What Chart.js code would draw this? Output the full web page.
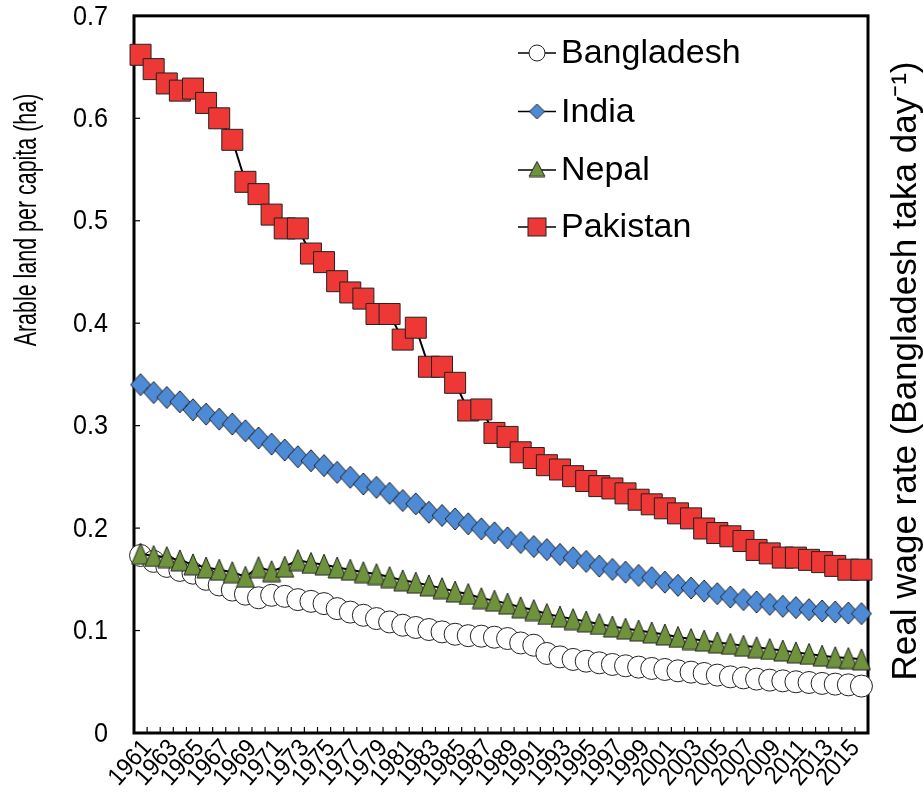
<!DOCTYPE html>
<html><head><meta charset="utf-8">
<script src="https://cdn.jsdelivr.net/npm/chart.js@4.4.0/dist/chart.umd.min.js"></script>
<style>html,body{margin:0;padding:0;background:#fff;}canvas{display:block;}</style>
</head><body>
<canvas id="c" width="923" height="798"></canvas>
<script>
const years = ['1961','1962','1963','1964','1965','1966','1967','1968','1969','1970',
'1971','1972','1973','1974','1975','1976','1977','1978','1979','1980',
'1981','1982','1983','1984','1985','1986','1987','1988','1989','1990',
'1991','1992','1993','1994','1995','1996','1997','1998','1999','2000',
'2001','2002','2003','2004','2005','2006','2007','2008','2009','2010',
'2011','2012','2013','2014','2015','2016'];
const xTickLabels = ['1961','1963','1965','1967','1969','1971','1973','1975','1977','1979','1981','1983','1985','1987','1989','1991','1993','1995','1997','1999','2001','2003','2005','2007','2009','2011','2013','2015'];
const yTickLabels = ['0','0.1','0.2','0.3','0.4','0.5','0.6','0.7'];
const seriesNames = ['Bangladesh','India','Nepal','Pakistan'];

const bangladesh = [0.1733,0.1675,0.1626,0.1587,0.1560,0.1500,0.1445,0.1395,0.1355,0.1320,
0.1344,0.1334,0.1302,0.1285,0.1263,0.1214,0.1180,0.1149,0.1117,0.1084,
0.1052,0.1030,0.1010,0.0987,0.0964,0.0950,0.0945,0.0935,0.0922,0.0879,
0.0857,0.0776,0.0743,0.0718,0.0701,0.0685,0.0669,0.0656,0.0643,0.0630,
0.0620,0.0607,0.0594,0.0581,0.0565,0.0548,0.0538,0.0526,0.0516,0.0509,
0.0500,0.0493,0.0484,0.0477,0.0470,0.0458];
const india = [0.3400,0.3323,0.3275,0.3233,0.3155,0.3113,0.3064,0.3016,0.2950,0.2880,
0.2820,0.2762,0.2697,0.2658,0.2610,0.2544,0.2496,0.2431,0.2398,0.2340,
0.2269,0.2237,0.2155,0.2123,0.2090,0.2042,0.1993,0.1954,0.1905,0.1860,
0.1820,0.1790,0.1743,0.1710,0.1675,0.1629,0.1597,0.1570,0.1538,0.1516,
0.1473,0.1441,0.1415,0.1386,0.1360,0.1327,0.1302,0.1279,0.1256,0.1237,
0.1224,0.1204,0.1191,0.1181,0.1171,0.1165];
const nepal = [0.1750,0.1728,0.1717,0.1685,0.1646,0.1616,0.1594,0.1570,0.1525,0.1619,
0.1580,0.1623,0.1688,0.1660,0.1644,0.1616,0.1594,0.1570,0.1551,0.1522,
0.1490,0.1468,0.1441,0.1414,0.1381,0.1357,0.1316,0.1292,0.1263,0.1227,
0.1200,0.1162,0.1136,0.1112,0.1089,0.1064,0.1039,0.1019,0.1000,0.0982,
0.0962,0.0938,0.0917,0.0902,0.0884,0.0870,0.0852,0.0837,0.0820,0.0805,
0.0787,0.0772,0.0755,0.0740,0.0732,0.0719];
const pakistan = [0.662,0.648,0.634,0.627,0.629,0.615,0.600,0.579,0.538,0.526,
0.506,0.4925,0.4925,0.468,0.4596,0.441,0.430,0.424,0.409,0.409,
0.384,0.3956,0.3575,0.3575,0.3418,0.3148,0.3158,0.2929,0.2890,0.2740,
0.2684,0.2614,0.2572,0.2507,0.2460,0.2410,0.2387,0.2339,0.2277,0.2232,
0.2193,0.2144,0.2095,0.1996,0.1952,0.1920,0.1874,0.1787,0.1753,0.1712,
0.1712,0.1690,0.1668,0.1631,0.1594,0.1594];

const FONT = "'Liberation Sans', Arial, Helvetica, sans-serif";
const C_RED = '#EE3835', C_BLUE = '#4E8BD6', C_GREEN = '#6F933C', C_EDGE = '#222';

function markCanvas(kind, w, h, fill) {
  const c = document.createElement('canvas');
  c.width = w + 2; c.height = h + 2;
  const g = c.getContext('2d');
  g.beginPath();
  if (kind === 'tri') {
    g.moveTo(c.width / 2, 1); g.lineTo(w + 1, h + 1); g.lineTo(1, h + 1);
  } else {
    g.moveTo(c.width / 2, 1); g.lineTo(w + 1, c.height / 2); g.lineTo(c.width / 2, h + 1); g.lineTo(1, c.height / 2);
  }
  g.closePath();
  g.fillStyle = fill; g.fill();
  g.lineWidth = 1; g.strokeStyle = C_EDGE; g.stroke();
  return c;
}
const triMark = markCanvas('tri', 18, 21, C_GREEN);
const diaMark = markCanvas('dia', 20, 22, C_BLUE);
const triLeg = markCanvas('tri', 16, 15, C_GREEN);
const diaLeg = markCanvas('dia', 15, 15, C_BLUE);

function txt(ctx, s, x, y, rot, size, sx, align, base) {
  ctx.save();
  ctx.translate(x, y);
  if (rot) ctx.rotate(rot);
  ctx.scale(sx, 1);
  ctx.font = size + 'px ' + FONT;
  ctx.textAlign = align;
  ctx.textBaseline = base;
  ctx.fillStyle = '#000';
  ctx.fillText(s, 0, 0);
  ctx.restore();
}

const decor = {
  id: 'decor',
  beforeDatasetsDraw(chart) {
    const { ctx, chartArea: a, scales: { x, y } } = chart;
    ctx.save();
    ctx.strokeStyle = '#000';
    ctx.lineWidth = 1.2;
    yTickLabels.forEach((l) => {
      const py = y.getPixelForValue(parseFloat(l));
      ctx.beginPath(); ctx.moveTo(a.left, py); ctx.lineTo(a.left + 6, py); ctx.stroke();
    });
    for (let i = 0; i <= years.length; i++) {
      const px = x.getPixelForValue(i - 0.5);
      ctx.beginPath(); ctx.moveTo(px, a.bottom); ctx.lineTo(px, a.bottom - 6); ctx.stroke();
    }
    ctx.lineWidth = 3;
    ctx.strokeRect(a.left, a.top, a.right - a.left, a.bottom - a.top);
    ctx.restore();
  },
  afterDraw(chart) {
    const { ctx, chartArea: a, scales: { x, y } } = chart;
    yTickLabels.forEach((l) => {
      txt(ctx, l, 108, y.getPixelForValue(parseFloat(l)) + 1, 0, 28, 0.9, 'right', 'middle');
    });
    xTickLabels.forEach((l) => {
      const px = x.getPixelForValue(years.indexOf(l));
      txt(ctx, l, px + 7, a.bottom + 11, -48 * Math.PI / 180, 25, 0.92, 'right', 'middle');
    });
    txt(ctx, 'Arable land per capita (ha)', 27, 220, -Math.PI / 2, 32, 0.67, 'center', 'middle');
    txt(ctx, 'Real wage rate (Bangladesh taka day\u207B\u00B9)', 906, 371, -Math.PI / 2, 35, 1, 'center', 'middle');
    ctx.save();
    const rows = [53, 111.5, 170, 227];
    rows.forEach((ry, i) => {
      ctx.strokeStyle = '#000'; ctx.lineWidth = 1.5;
      ctx.beginPath(); ctx.moveTo(518, ry); ctx.lineTo(556, ry); ctx.stroke();
      const mx = 537;
      if (i === 0) {
        ctx.beginPath(); ctx.arc(mx, ry, 8, 0, Math.PI * 2);
        ctx.fillStyle = '#fff'; ctx.fill(); ctx.lineWidth = 1; ctx.strokeStyle = C_EDGE; ctx.stroke();
      } else if (i === 1) {
        ctx.drawImage(diaLeg, mx - diaLeg.width / 2, ry - diaLeg.height / 2);
      } else if (i === 2) {
        ctx.drawImage(triLeg, mx - triLeg.width / 2, ry - triLeg.height / 2 - 1);
      } else {
        ctx.fillStyle = C_RED; ctx.fillRect(mx - 9, ry - 9, 18, 18);
        ctx.lineWidth = 1; ctx.strokeStyle = C_EDGE; ctx.strokeRect(mx - 9, ry - 9, 18, 18);
      }
      txt(ctx, seriesNames[i], 561, ry + 1, 0, 34, 1, 'left', 'middle');
    });
    ctx.restore();
  }
};

const common = { borderColor: '#000', borderWidth: 2, tension: 0, clip: false, fill: false };

new Chart(document.getElementById('c'), {
  type: 'line',
  data: {
    labels: years,
    datasets: [
      Object.assign({ label: seriesNames[0], data: bangladesh, pointStyle: 'circle', pointRadius: 11,
        pointBackgroundColor: '#fff', pointBorderColor: C_EDGE, pointBorderWidth: 1, order: 4 }, common),
      Object.assign({ label: seriesNames[1], data: india, pointStyle: diaMark, pointRadius: 10,
        pointBackgroundColor: C_BLUE, pointBorderColor: C_EDGE, order: 3 }, common),
      Object.assign({ label: seriesNames[2], data: nepal, pointStyle: triMark, pointRadius: 10,
        pointBackgroundColor: C_GREEN, pointBorderColor: C_EDGE, order: 2 }, common),
      Object.assign({ label: seriesNames[3], data: pakistan, pointStyle: 'rect', pointRadius: 14.85,
        pointBackgroundColor: C_RED, pointBorderColor: C_EDGE, pointBorderWidth: 1, order: 1 }, common)
    ]
  },
  options: {
    responsive: false,
    animation: false,
    devicePixelRatio: 1,
    layout: { padding: { top: 14, right: 55, left: 0, bottom: 0 } },
    plugins: { legend: { display: false }, tooltip: { enabled: false } },
    scales: {
      x: {
        type: 'category', offset: true,
        grid: { display: false, drawTicks: false },
        border: { display: false },
        ticks: { display: false, autoSkip: false },
        afterFit: function (s) { s.height = 65; }
      },
      y: {
        min: 0, max: 0.7,
        grid: { display: false, drawTicks: false },
        border: { display: false },
        ticks: { display: false, stepSize: 0.1 },
        afterFit: function (s) { s.width = 134; }
      }
    }
  },
  plugins: [decor]
});
</script>
</body></html>
